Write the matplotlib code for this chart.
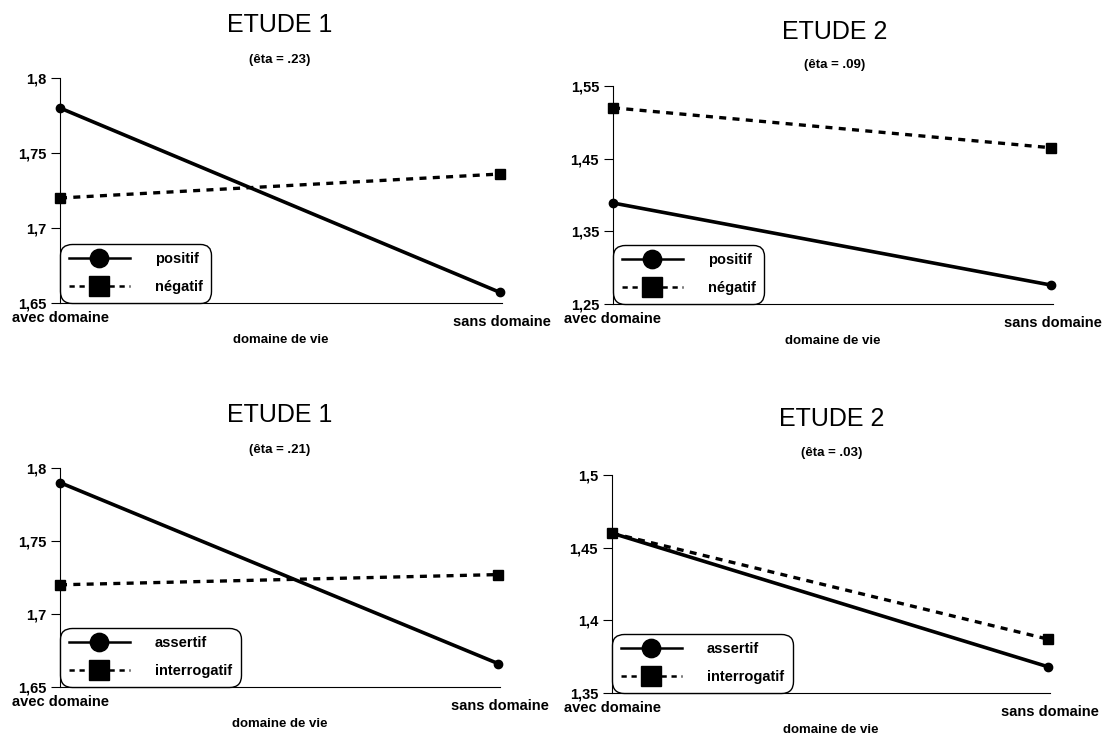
import matplotlib
matplotlib.use('Agg')
import matplotlib.pyplot as plt

plt.rcParams['font.family'] = ['Liberation Sans', 'DejaVu Sans']

conditions = ['avec domaine', 'sans domaine']
xlabel = 'domaine de vie'

titles = ['ETUDE 1', 'ETUDE 2', 'ETUDE 1', 'ETUDE 2']
etas = ['(êta = .23)', '(êta = .09)', '(êta = .21)', '(êta = .03)']

legend_labels = [('positif', 'négatif'), ('positif', 'négatif'),
                 ('assertif', 'interrogatif'), ('assertif', 'interrogatif')]

solid_values = [[1.78, 1.657], [1.389, 1.276], [1.790, 1.666], [1.460, 1.368]]
dashed_values = [[1.720, 1.736], [1.520, 1.465], [1.720, 1.727], [1.460, 1.387]]

yticks = [[1.65, 1.70, 1.75, 1.80],
          [1.25, 1.35, 1.45, 1.55],
          [1.65, 1.70, 1.75, 1.80],
          [1.35, 1.40, 1.45, 1.50]]
ytick_labels = [['1,65', '1,7', '1,75', '1,8'],
                ['1,25', '1,35', '1,45', '1,55'],
                ['1,65', '1,7', '1,75', '1,8'],
                ['1,35', '1,4', '1,45', '1,5']]

# axes boxes in pixels (left, right, top, bottom) of a 1104x740 figure
W, H = 1104, 740
boxes = [(60, 502, 78, 303), (613, 1053, 86, 304),
         (60, 500, 468, 687), (612, 1050, 475, 693)]
title_pos = [(280, 25, 60), (835, 32, 65), (280, 415, 450), (832, 419, 453)]

fig = plt.figure(figsize=(W / 100, H / 100), dpi=100)

for i in range(4):
    l, r, t, b = boxes[i]
    ax = fig.add_axes([l / W, 1 - b / H, (r - l) / W, (b - t) / H])
    x = [0, 1]
    ax.plot(x, solid_values[i], color='black', lw=2.6, marker='o', ms=6,
            clip_on=False, label=legend_labels[i][0], zorder=3)
    ax.plot(x, dashed_values[i], color='black', lw=2.4, ls=(0, (2.1, 1.9)),
            marker='s', ms=6.5, clip_on=False, label=legend_labels[i][1], zorder=3)
    ax.set_xlim(0, 1.004)
    ax.set_ylim(yticks[i][0], yticks[i][-1])
    ax.set_yticks(yticks[i])
    ax.set_yticklabels(ytick_labels[i], fontsize=10.5, fontweight='bold')
    ax.tick_params(axis='y', length=6.5, width=0.8, pad=3.5)
    ax.set_xticks([])
    for s in ['top', 'right']:
        ax.spines[s].set_visible(False)
    ax.spines['left'].set_linewidth(0.8)
    ax.spines['bottom'].set_linewidth(0.8)

    ax.annotate(conditions[0], xy=(0, 0), xycoords='axes fraction',
                xytext=(0, -15), textcoords='offset pixels', ha='center', va='center',
                fontsize=10.5, fontweight='bold')
    ax.annotate(conditions[1], xy=(1, 0), xycoords='axes fraction',
                xytext=(0, -19), textcoords='offset pixels', ha='center', va='center',
                fontsize=10.5, fontweight='bold')
    ax.annotate(xlabel, xy=(0.5, 0), xycoords='axes fraction',
                xytext=(0, -37), textcoords='offset pixels', ha='center', va='center',
                fontsize=9.5, fontweight='bold')

    leg = ax.legend(loc='lower left', bbox_to_anchor=(0, 0), borderaxespad=0,
                    prop={'weight': 'bold', 'size': 10.5},
                    markerscale=2.2, handlelength=4.2, handletextpad=1.7,
                    borderpad=0.6, labelspacing=0.95, fancybox=True, framealpha=1)
    leg.get_frame().set_edgecolor('black')
    leg.get_frame().set_linewidth(1.0)
    leg.legendPatch.set_boxstyle('round', pad=0, rounding_size=0.8)
    for h in leg.legend_handles:
        h.set_linewidth(1.8)

    tx, ty1, ty2 = title_pos[i]
    fig.text(tx / W, 1 - ty1 / H, titles[i], ha='center', va='center', fontsize=18)
    fig.text(tx / W, 1 - ty2 / H, etas[i], ha='center', va='center',
             fontsize=9.5, fontweight='bold')

fig.savefig('out.png', dpi=100)
